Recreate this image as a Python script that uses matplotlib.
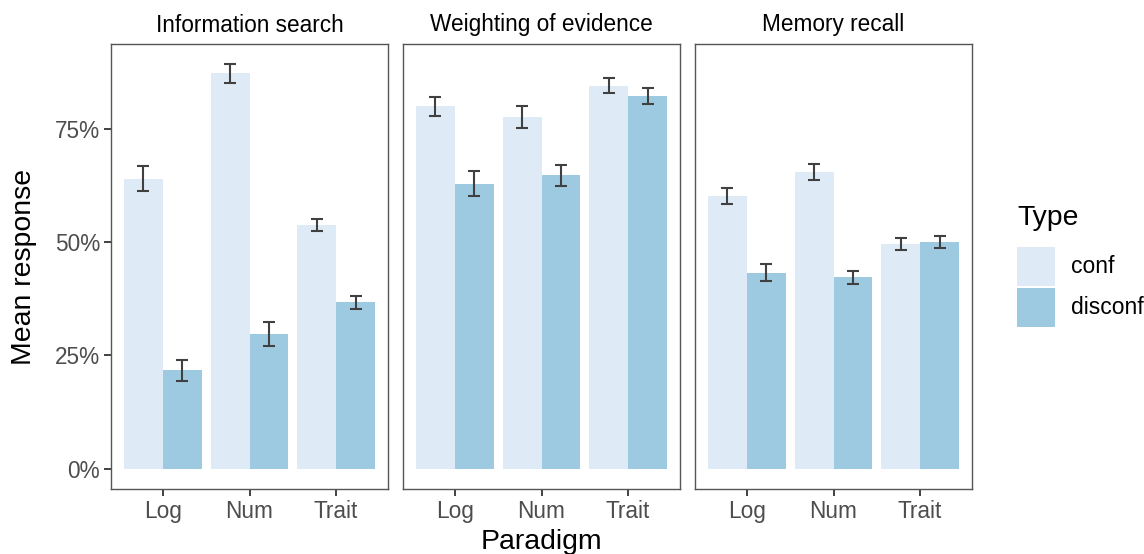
import matplotlib

matplotlib.use("Agg")
import matplotlib.pyplot as plt
import numpy as np
from matplotlib.patches import Rectangle
from matplotlib.ticker import FuncFormatter

plt.rcParams["font.family"] = ["Liberation Sans", "DejaVu Sans"]

# data
facets = ["Information search", "Weighting of evidence", "Memory recall"]
paradigms = ["Log", "Num", "Trait"]
types = ["conf", "disconf"]

conf_mean = [
    [0.640, 0.872, 0.537],
    [0.800, 0.776, 0.844],
    [0.601, 0.654, 0.496],
]
conf_lo = [
    [0.613, 0.852, 0.525],
    [0.778, 0.752, 0.828],
    [0.583, 0.636, 0.482],
]
conf_hi = [
    [0.668, 0.892, 0.550],
    [0.820, 0.800, 0.861],
    [0.620, 0.673, 0.508],
]
disconf_mean = [
    [0.217, 0.298, 0.367],
    [0.629, 0.647, 0.822],
    [0.432, 0.422, 0.500],
]
disconf_lo = [
    [0.194, 0.271, 0.353],
    [0.601, 0.624, 0.804],
    [0.414, 0.408, 0.486],
]
disconf_hi = [
    [0.240, 0.324, 0.381],
    [0.656, 0.671, 0.839],
    [0.452, 0.437, 0.513],
]

colors = {"conf": "#DEEBF7", "disconf": "#9ECAE1"}
err_color = "#404040"
border_color = "#555555"
tick_color = "#333333"
label_color = "#4D4D4D"

W, H = 1144, 554
fig = plt.figure(figsize=(W / 100, H / 100), dpi=100)

panel_left = [111, 403, 695]
panel_w = 277
panel_top, panel_bottom = 44, 489

x = np.arange(1, len(paradigms) + 1)
bw = 0.45

series = [
    ("conf", conf_mean, conf_lo, conf_hi, -bw / 2),
    ("disconf", disconf_mean, disconf_lo, disconf_hi, bw / 2),
]

for i, facet in enumerate(facets):
    ax = fig.add_axes(
        [
            panel_left[i] / W,
            1 - panel_bottom / H,
            panel_w / W,
            (panel_bottom - panel_top) / H,
        ]
    )
    for name, mean, lo, hi, off in series:
        m = np.array(mean[i])
        ax.bar(x + off, m, width=bw, color=colors[name], linewidth=0, zorder=2)
        ax.errorbar(
            x + off,
            m,
            yerr=[m - np.array(lo[i]), np.array(hi[i]) - m],
            fmt="none",
            ecolor=err_color,
            elinewidth=1.5,
            capsize=4.3,
            capthick=1.5,
            zorder=3,
        )

    ax.set_xlim(0.4, 3.6)
    ax.set_ylim(-0.045, 0.937)
    ax.set_xticks(x)
    ax.set_xticklabels(paradigms)
    ax.set_yticks([0, 0.25, 0.5, 0.75])
    ax.yaxis.set_major_formatter(FuncFormatter(lambda v, p: f"{v * 100:.0f}%"))
    for s in ax.spines.values():
        s.set_color(border_color)
        s.set_linewidth(1.0)
    ax.tick_params(
        axis="both",
        length=5,
        width=1.3,
        color=tick_color,
        labelsize=16.3,
        labelcolor=label_color,
        pad=3,
    )
    if i > 0:
        ax.tick_params(axis="y", left=False, labelleft=False)
    ax.set_title(facet, fontsize=16.3, color="black", pad=9)

fig.text(
    24 / W,
    1 - ((panel_top + panel_bottom) / 2) / H,
    "Mean response",
    rotation=90,
    ha="center",
    va="center",
    fontsize=20.4,
)
fig.text(
    ((panel_left[0] + panel_left[2] + panel_w) / 2) / W,
    1 - 542 / H,
    "Paradigm",
    ha="center",
    va="center",
    fontsize=20.4,
)

# legend drawn by hand to match ggplot's key sizes
key_x, key_w, key_h, key_top, key_gap = 1017, 38, 39, 247, 2
fig.text(key_x / W, 1 - 218 / H, "Type", ha="left", va="center", fontsize=20.4)
for j, t in enumerate(types):
    top = key_top + j * (key_h + key_gap)
    fig.add_artist(
        Rectangle(
            (key_x / W, 1 - (top + key_h) / H),
            key_w / W,
            key_h / H,
            transform=fig.transFigure,
            facecolor=colors[t],
            edgecolor="none",
        )
    )
    fig.text(
        1071 / W,
        1 - (top + key_h / 2) / H,
        t,
        ha="left",
        va="center",
        fontsize=16.5,
    )

fig.savefig("out.png", dpi=100)
